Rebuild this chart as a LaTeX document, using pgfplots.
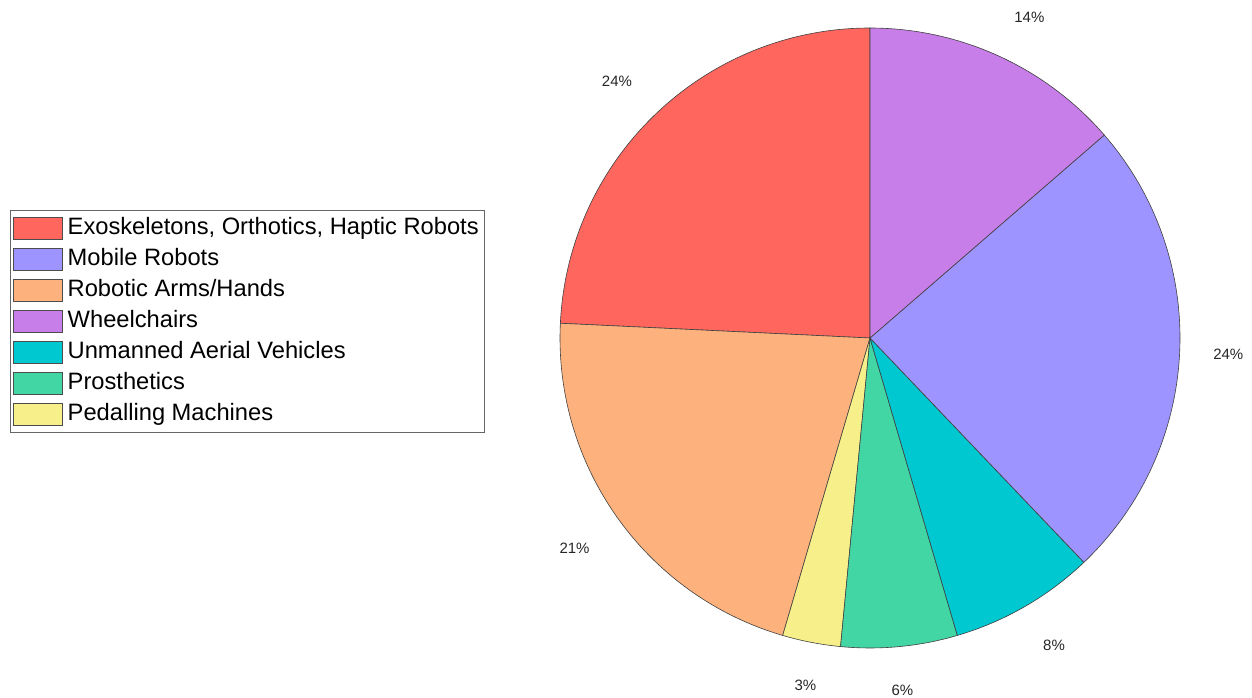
\documentclass[border=0pt]{standalone}
\usepackage{pgfplots}
\pgfplotsset{compat=1.18}
\usepackage{pgfplotstable}
\usepackage{fontspec}
\setmainfont{Liberation Sans}

\definecolor{cExo}{RGB}{255,102,94}
\definecolor{cMob}{RGB}{158,148,255}
\definecolor{cArm}{RGB}{253,178,125}
\definecolor{cWhe}{RGB}{199,126,232}
\definecolor{cUAV}{RGB}{0,200,208}
\definecolor{cPro}{RGB}{66,214,164}
\definecolor{cPed}{RGB}{247,240,138}

% slices in drawing order, counter-clockwise from 12 o'clock
\pgfplotstableread{
key col count
Exoskeletons cExo 16
Arms cArm 14
Pedalling cPed 2
Prosthetics cPro 4
UAV cUAV 5
Mobile cMob 16
Wheelchairs cWhe 9
}\piedata

\begin{document}
\begin{tikzpicture}
\begin{axis}[
  anchor=origin, at={(0,0)},
  x=1pt, y=1pt,
  xmin=0, xmax=1252, ymin=0, ymax=697,
  hide axis, clip=false,
  legend cell align=left,
  legend style={at={(axis cs:9.5,487)}, anchor=north west,
    draw=black!60, line width=0.8pt,
    font=\fontsize{23.7}{28}\selectfont,
    inner xsep=3.5pt, inner ysep=2.5pt,
    row sep=0pt,
    nodes={inner xsep=2pt, inner ysep=4.5pt, text height=17pt, text depth=5pt}},
  legend image code/.code={\path[draw=none, fill=none] (0pt,0pt) -- (52pt,0pt);\draw[#1, line width=0.6pt, draw=black!70] (0pt,-11pt) rectangle (49pt,11pt);},
]
\pgfplotstablegetrowsof{\piedata}
\pgfmathtruncatemacro\nrows{\pgfplotsretval-1}
\def\total{0}
\pgfplotsforeachungrouped \i in {0,...,\nrows}{%
  \pgfplotstablegetelem{\i}{count}\of\piedata
  \pgfmathsetmacro\total{\total+\pgfplotsretval}%
}
\pgfmathsetmacro\unitang{360/\total}
\pgfmathsetmacro\unitpct{100/\total}
\def\cum{0}
\pgfplotsforeachungrouped \i in {0,...,\nrows}{%
  \pgfplotstablegetelem{\i}{count}\of\piedata \let\cnt\pgfplotsretval
  \pgfplotstablegetelem{\i}{col}\of\piedata \let\col\pgfplotsretval
  \pgfmathsetmacro\aS{90+\unitang*\cum}%
  \pgfmathsetmacro\aE{90+\unitang*(\cum+\cnt)}%
  \pgfmathsetmacro\aM{(\aS+\aE)/2}%
  \pgfmathsetmacro\cx{cos(\aM)}%
  \pgfmathsetmacro\sy{sin(\aM)}%
  \pgfmathsetmacro\lx{870+341*\cx}%
  \pgfmathsetmacro\ly{359+341*\sy}%
  \pgfmathsetmacro\vsh{abs(\sy)>0.3 ? (\sy>0 ? 10 : -12.5) : 0}%
  \def\hanc{center}%
  \ifdim\cx pt>0.3pt \def\hanc{west}\fi
  \ifdim\cx pt<-0.3pt \def\hanc{east}\fi
  \pgfmathtruncatemacro\pct{round(\unitpct*\cnt)}%
  \edef\temp{\noexpand\filldraw[fill=\col, draw=black!75, line width=0.6pt]
    (axis cs:870,359) -- ++(\aS:310pt) arc[start angle=\aS, end angle=\aE, radius=310pt] -- cycle;
    \noexpand\node[font=\noexpand\fontsize{15}{18}\noexpand\selectfont, text=black!85, anchor=\hanc, inner xsep=2.5pt, yshift=\vsh pt] at (axis cs:\lx,\ly) {\pct\noexpand\%};}%
  \temp
  \pgfmathsetmacro\cum{\cum+\cnt}%
}
\addlegendimage{fill=cExo}\addlegendentry{Exoskeletons, Orthotics, Haptic Robots}
\addlegendimage{fill=cMob}\addlegendentry{Mobile Robots}
\addlegendimage{fill=cArm}\addlegendentry{Robotic Arms/Hands}
\addlegendimage{fill=cWhe}\addlegendentry{Wheelchairs}
\addlegendimage{fill=cUAV}\addlegendentry{Unmanned Aerial Vehicles}
\addlegendimage{fill=cPro}\addlegendentry{Prosthetics}
\addlegendimage{fill=cPed}\addlegendentry{Pedalling Machines}
\end{axis}
\pgfresetboundingbox
\path (0,0) rectangle (1252pt,697pt);
\end{tikzpicture}
\end{document}
